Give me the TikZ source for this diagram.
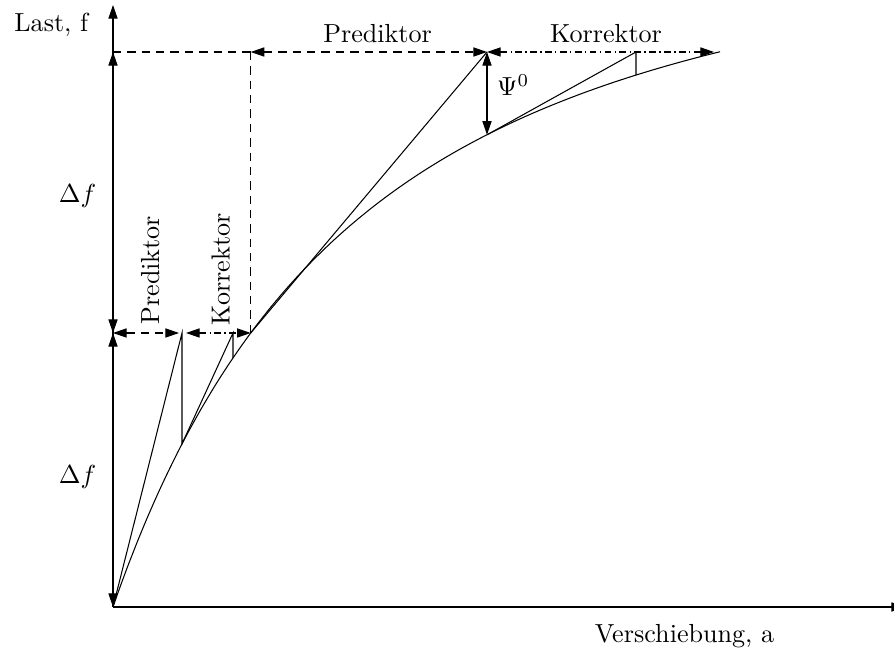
\documentclass[tikz,border=0pt]{standalone}
\usetikzlibrary{arrows.meta}
\begin{document}
\begin{tikzpicture}[x=0.383pt,y=-0.383pt,
  axisarrow/.style={-{Triangle[length=5.2pt,width=3.5pt]}},
  dimarrow/.style={{Triangle[length=5.2pt,width=3.5pt]}-{Triangle[length=5.2pt,width=3.5pt]}},
  dashline/.style={dash pattern=on 3.2pt off 2.3pt},
  dotdash/.style={dash pattern=on 2.6pt off 1.3pt on 0.5pt off 1.3pt},
  lbl/.style={inner sep=0pt, anchor=base},
  vlbl/.style={inner sep=0pt, rotate=90, anchor=base west}]
\useasboundingbox (0,0) rectangle (894,654);

% key points (load levels, predictor/corrector points, curve points)
\coordinate (O)    at (113,607);
\coordinate (Ytop) at (113,5);
\coordinate (Xend) at (905,607);
\coordinate (L1)   at (113,333);
\coordinate (L2)   at (113,52);
\coordinate (P1)   at (182,333);
\coordinate (C1)   at (182,443.9);
\coordinate (K1)   at (233,333);
\coordinate (C2)   at (233,358);
\coordinate (Q1)   at (250.7,333);
\coordinate (T1)   at (250.7,52);
\coordinate (P2)   at (487,52);
\coordinate (C3)   at (487,134.8);
\coordinate (K2)   at (636,52);
\coordinate (C4)   at (636,75.1);
\coordinate (KE)   at (714,52);
\coordinate (P1l)  at (179,333);
\coordinate (P1r)  at (186,333);

% axes
\draw[axisarrow] (O) -- (Ytop);
\draw[axisarrow] (O) -- (Xend);

% load-displacement curve f(u) = 688.6 (1 - (1+u/477)^-2)
\draw plot[domain=0:607, samples=160, smooth]
  ({113+\x}, {607-688.6*(1-1/((1+\x/477)*(1+\x/477)))});

% load increments
\draw[dimarrow] (L2) -- (L1);
\draw[dimarrow] (L1) -- (O);

% first step: predictor and corrector
\draw (O) -- (P1) -- (C1) -- (K1) -- (C2);
\draw[dimarrow, dashline] (L1) -- (P1l);
\draw[dimarrow, dotdash] (P1r) -- (Q1);

% second step: predictor and corrector
\draw (Q1) -- (P2);
\draw (C3) -- (K2) -- (C4);
\draw[dashline] (L2) -- (T1);
\draw[dashline] (T1) -- (Q1);
\draw[dimarrow, dashline] (T1) -- (P2);
\draw[dimarrow, dotdash] (P2) -- (KE);
\draw[dimarrow] (P2) -- (C3);

% labels
\node[lbl] (lf)  at (51.3,31.7) {Last, f};
\node[lbl] (la)  at (684.5,643) {Verschiebung, a};
\node[lbl] (df1) at (77.5,202.7) {$\Delta f$};
\node[lbl] (df2) at (77.5,483.3) {$\Delta f$};
\node[lbl] (pr2) at (377.6,42.7) {Prediktor};
\node[lbl] (ko2) at (606,42.7) {Korrektor};
\node[inner sep=0pt, anchor=base west] (psi) at (496.7,96) {$\Psi^0$};
\node[vlbl] (pr1) at (159,325) {Prediktor};
\node[vlbl] (ko1) at (229.5,326) {Korrektor};
\end{tikzpicture}
\end{document}
